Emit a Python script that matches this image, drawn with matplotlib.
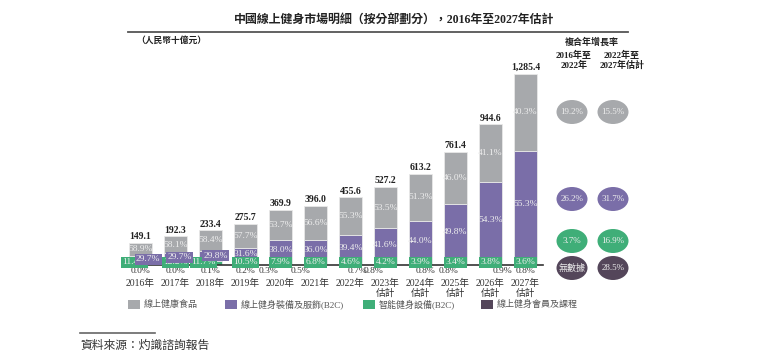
import numpy as np
import matplotlib.pyplot as plt
from matplotlib.patches import Ellipse, Rectangle

plt.rcParams['font.family'] = ['Liberation Serif', 'Noto Sans CJK TC', 'DejaVu Sans']

# 數據
years = ['2016年', '2017年', '2018年', '2019年', '2020年', '2021年', '2022年',
         '2023年\n估計', '2024年\n估計', '2025年\n估計', '2026年\n估計', '2027年\n估計']
totals = [149.1, 192.3, 233.4, 275.7, 369.9, 396.0, 455.6, 527.2, 613.2, 761.4, 944.6, 1285.4]
pct_food = [58.9, 58.1, 58.4, 57.7, 53.7, 56.6, 55.3, 53.5, 51.3, 46.0, 41.1, 40.3]
pct_gear = [29.7, 29.7, 29.8, 31.6, 38.0, 36.0, 39.4, 41.6, 44.0, 49.8, 54.3, 55.3]
pct_smart = [11.4, 12.2, 11.7, 10.5, 7.9, 6.8, 4.6, 4.2, 3.9, 3.4, 3.8, 3.6]
pct_member = [0.0, 0.0, 0.1, 0.2, 0.3, 0.5, 0.7, 0.8, 0.8, 0.8, 0.9, 0.8]

series_names = ['線上健康食品', '線上健身裝備及服飾(B2C)', '智能健身設備(B2C)', '線上健身會員及課程']
cagr_1622 = ['19.2%', '26.2%', '3.7%', '無數據']
cagr_2227 = ['15.5%', '31.7%', '16.9%', '28.5%']

colors = ['#a7a9ac', '#7a6ea8', '#3fae78', '#54465a']

# 標籤微調 (以柱寬為單位)
gear_dx = [0.22, 0.12, 0.15, 0, 0, 0, 0, 0, 0, 0, 0, 0]
smart_dx = [-0.17, 0, -0.2, 0, 0, 0, 0, 0, 0, 0, 0, 0]
member_dx = [0, 0, 0, 0, -0.33, -0.43, 0.2, -0.35, 0.15, -0.2, 0.35, 0]

W, H = 771, 362
fig = plt.figure(figsize=(W / 100, H / 100), dpi=100)

# 主圖 (像素位置換算)
left, right, bottom, top = 123, 543, 265, 60
ax = fig.add_axes([left / W, 1 - bottom / H, (right - left) / W, (bottom - top) / H])
x = np.arange(len(totals))
tot = np.array(totals)
food = tot * np.array(pct_food) / 100
gear = tot * np.array(pct_gear) / 100
smart = tot * np.array(pct_smart) / 100
member = tot * np.array(pct_member) / 100

bw = 0.63
b0 = np.zeros(len(x))
for vals, c in zip([member, smart, gear, food], [colors[3], colors[2], colors[1], colors[0]]):
    ax.bar(x, vals, bw, bottom=b0, color=c, edgecolor='#e8e8e8', linewidth=0.6, zorder=2)
    b0 = b0 + vals

ax.set_xlim(-0.5, len(x) - 0.5)
ax.set_ylim(0, 1285.4 * (bottom - top) / 191)
for s in ['top', 'right', 'left']:
    ax.spines[s].set_visible(False)
ax.spines['bottom'].set_color('#333333')
ax.spines['bottom'].set_linewidth(1.2)
ax.set_yticks([])
ax.set_xticks(x)
ax.set_xticklabels(years, fontsize=7, color='#333333', linespacing=1.1)
ax.tick_params(axis='x', length=0, pad=10)

txt_col = '#eeeeee'
fs = 6.8
for i in range(len(x)):
    # 總數
    ax.text(x[i], tot[i] + 12, f'{totals[i]:,.1f}', ha='center', va='bottom',
            fontsize=7, fontweight='bold', color='#222222')
    # 食品
    yf = member[i] + smart[i] + gear[i] + food[i] / 2
    ax.text(x[i], yf, f'{pct_food[i]:.1f}%', ha='center', va='center', fontsize=fs, color=txt_col, zorder=5)
    # 裝備
    yg = member[i] + smart[i] + gear[i] / 2
    if i < 3:
        ax.text(x[i] + gear_dx[i], yg, f'{pct_gear[i]:.1f}%', ha='center', va='center', fontsize=fs,
                color=txt_col, zorder=7,
                bbox=dict(boxstyle='square,pad=0.15', fc=colors[1], ec='none'))
    else:
        ax.text(x[i], yg, f'{pct_gear[i]:.1f}%', ha='center', va='center', fontsize=fs, color=txt_col, zorder=5)
    # 智能設備
    ax.text(x[i] + smart_dx[i], 18, f'{pct_smart[i]:.1f}%', ha='center', va='center', fontsize=fs,
            color=txt_col, zorder=6,
            bbox=dict(boxstyle='square,pad=0.15', fc=colors[2], ec='none'))
    # 會員
    ax.text(x[i] + member_dx[i], -40, f'{pct_member[i]:.1f}%', ha='center', va='center',
            fontsize=fs, color='#333333', clip_on=False)

# 覆蓋層 (像素座標)
ov = fig.add_axes([0, 0, 1, 1], facecolor='none')
ov.set_xlim(0, W)
ov.set_ylim(H, 0)
ov.axis('off')

ov.text(394, 20, '中國線上健身市場明細（按分部劃分），2016年至2027年估計', ha='center', va='center',
        fontsize=8.6, fontweight='bold', color='#222222')
ov.plot([128, 628], [32, 32], color='#555555', lw=1.3)
ov.text(136, 40, '（人民幣十億元）', ha='left', va='center', fontsize=6.3, fontweight='bold', color='#222222')
ov.text(592, 42, '複合年增長率', ha='center', va='center', fontsize=6.5, fontweight='bold', color='#222222')
ov.text(574, 60, '2016年至\n2022年', ha='center', va='center', fontsize=6.5, fontweight='bold',
        color='#222222', linespacing=1.1)
ov.text(622, 60, '2022年至\n2027年估計', ha='center', va='center', fontsize=6.5, fontweight='bold',
        color='#222222', linespacing=1.1)

row_y = [112, 199, 241, 268]
for j in range(4):
    for cx, lab in zip([572, 613], [cagr_1622[j], cagr_2227[j]]):
        ov.add_patch(Ellipse((cx, row_y[j]), 31, 24, fc=colors[j], ec='none'))
        ov.text(cx, row_y[j], lab, ha='center', va='center', fontsize=6.5, color='#eeeeee')

# 圖例
leg_x = [128, 225, 363, 481]
for j in range(4):
    ov.add_patch(Rectangle((leg_x[j], 300), 12, 9, fc=colors[j], ec='none'))
    ov.text(leg_x[j] + 16, 304.5, series_names[j], ha='left', va='center', fontsize=6.5, color='#555555')

ov.plot([80, 155], [333, 333], color='#666666', lw=1.2)
ov.text(80, 346, '資料來源：灼識諮詢報告', ha='left', va='center', fontsize=8.5, style='italic', color='#333333')

fig.savefig('out.png', dpi=100)
